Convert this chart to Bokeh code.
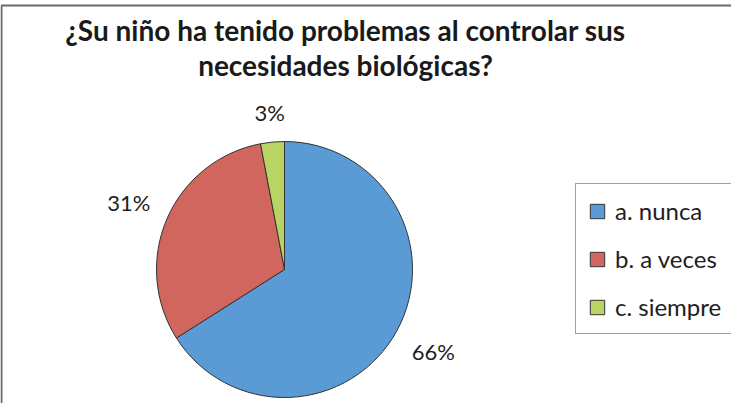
import math
from bokeh.plotting import figure
from bokeh.models import Range1d, ColumnDataSource, Legend, LegendItem
from bokeh.core.properties import value
from bokeh.embed import file_html
from bokeh.resources import INLINE

# ---- data ----
categories = ["a. nunca", "b. a veces", "c. siempre"]
percents = [66, 31, 3]
label_texts = ["66%", "31%", "3%"]
colors = ["#5B9BD5", "#D0665E", "#B9D465"]
title_lines = ["¿Su niño ha tenido problemas al controlar sus", "necesidades biológicas?"]

FONT = "Lato"
W, H = 731, 403

p = figure(width=W, height=H, x_range=Range1d(0, W), y_range=Range1d(0, H),
           output_backend="svg", toolbar_location=None, min_border=0,
           x_axis_location=None, y_axis_location=None)
p.grid.visible = False
p.outline_line_color = None
p.background_fill_color = "white"
p.border_fill_color = "white"

# outer chart frame (extends beyond the right/bottom edges)
p.quad(left=1, right=W + 30, top=H - 5, bottom=-30, fill_color=None,
       line_color="#6a6a6a", line_width=2)

# pie geometry
cx, cy, r = 284, 134, 128
total = float(sum(percents))
starts, ends, cum = [], [], 0.0
for v in percents:
    starts.append(math.pi / 2 - 2 * math.pi * cum / total)
    cum += v
    ends.append(math.pi / 2 - 2 * math.pi * cum / total)

src = ColumnDataSource(dict(start=starts, end=ends, color=colors, cat=categories))
wedges = p.wedge(x=cx, y=cy, radius=r, start_angle="start", end_angle="end",
                 direction="clock", fill_color="color", line_color="#333333",
                 line_width=1, source=src)

# data labels outside end
lx, ly = [], []
for s, e, t in zip(starts, ends, label_texts):
    m = (s + e) / 2
    c, sn = math.cos(m), math.sin(m)
    hw, hh = len(t) * 7.6, 12
    d = r + 16 + abs(c) * hw + abs(sn) * hh
    lx.append(cx + d * c)
    ly.append(cy + d * sn)
p.text(x=lx, y=ly, text=label_texts, text_align="center", text_baseline="middle",
       text_font=value(FONT), text_font_size="22px", text_color="#1e1e1e")

# title
p.text(x=[345, 345], y=[374, 339], text=title_lines, text_align="center",
       text_baseline="alphabetic", text_font=value(FONT), text_font_size="28px",
       text_font_style="bold", text_color="#1a1a1a")

# legend
items = [LegendItem(label=cat, renderers=[wedges], index=i) for i, cat in enumerate(categories)]
legend = Legend(items=items, location=(575, 69), orientation="vertical",
                glyph_width=18, glyph_height=18, label_height=20, spacing=19,
                padding=12, label_standoff=9, margin=0,
                border_line_color="#444444", border_line_width=1.5,
                background_fill_color="white", background_fill_alpha=1,
                label_text_font=FONT, label_text_font_size="24px",
                label_text_color="#1e1e1e")
p.add_layout(legend)

open("out.html", "w").write(file_html(p, INLINE))
